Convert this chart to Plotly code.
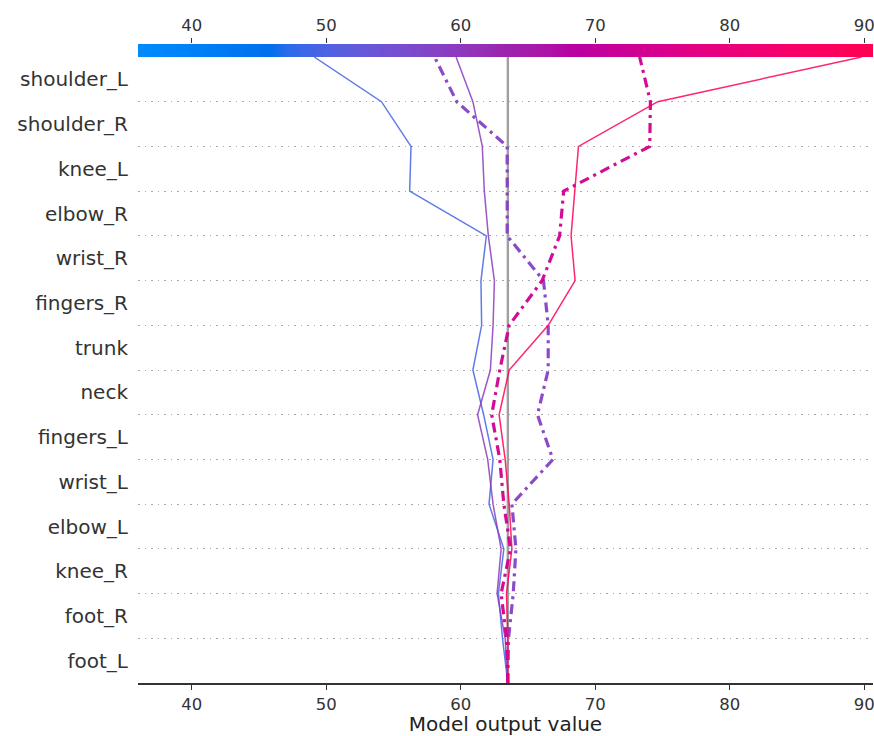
import numpy as np
import plotly.graph_objects as go

# ---------------- data ----------------
# features listed bottom -> top (y label order of the decision plot)
features = ["foot_L", "foot_R", "knee_R", "elbow_L", "wrist_L", "fingers_L", "neck",
            "trunk", "fingers_R", "wrist_R", "elbow_R", "knee_L", "shoulder_R", "shoulder_L"]

base_value = 63.5
x_range = [36.0, 90.65]
x_ticks = [40, 50, 60, 70, 80, 90]

# cumulative model output at each level (0 = base, bottom ... 14 = final output, top)
obs_blue = [63.5, 63.1, 62.8, 63.2, 62.1, 62.4, 61.7, 60.9, 61.55, 61.5, 61.9, 56.2, 56.3, 54.1, 49.1]
obs_purple = [63.5, 63.3, 62.7, 63.0, 62.4, 62.0, 61.25, 62.2, 62.4, 62.5, 62.05, 61.75, 61.6, 60.9, 59.65]
obs_purple_hl = [63.5, 63.55, 63.9, 64.1, 63.8, 66.85, 65.7, 66.5, 66.5, 66.15, 63.45, 63.45, 63.45, 59.7, 58.05]
obs_magenta_hl = [63.5, 63.4, 63.0, 63.7, 63.2, 62.9, 62.3, 62.9, 63.6, 66.05, 67.35, 67.65, 74.05, 74.1, 73.3]
obs_red = [63.5, 63.5, 63.4, 63.8, 63.6, 63.3, 62.85, 63.6, 66.5, 68.5, 68.2, 68.5, 68.75, 74.65, 89.8]

series = [
    ("obs 1", obs_blue, False),
    ("obs 2", obs_purple, False),
    ("obs 3", obs_purple_hl, True),
    ("obs 4", obs_magenta_hl, True),
    ("obs 5", obs_red, False),
]

# ---------------- shap red_blue colormap (LCH interpolation) ----------------
def lch2rgb(L, C, h):
    a = C * np.cos(h)
    b = C * np.sin(h)
    fy = (L + 16) / 116
    fx = fy + a / 500
    fz = fy - b / 200

    def finv(t):
        return t ** 3 if t > 6 / 29 else 3 * (6 / 29) ** 2 * (t - 4 / 29)

    X = 0.95047 * finv(fx)
    Y = 1.0 * finv(fy)
    Z = 1.08883 * finv(fz)
    r = 3.2406 * X - 1.5372 * Y - 0.4986 * Z
    g = -0.9689 * X + 1.8758 * Y + 0.0415 * Z
    bb = 0.0557 * X - 0.2040 * Y + 1.0570 * Z
    out = []
    for c in (r, g, bb):
        c = 1.055 * c ** (1 / 2.4) - 0.055 if c > 0.0031308 else 12.92 * c
        out.append(min(max(c, 0.0), 1.0))
    return out

blue_lch = [54.0, 70.0, 4.6588]
l_mid = 40.0
red_lch = [54.0, 90.0, 0.35470565 + 2 * np.pi]
nsteps = 100
l_vals = list(np.linspace(blue_lch[0], l_mid, nsteps // 2)) + list(np.linspace(l_mid, red_lch[0], nsteps // 2))
c_vals = np.linspace(blue_lch[1], red_lch[1], nsteps)
h_vals = np.linspace(blue_lch[2], red_lch[2], nsteps)
cmap_rgb = [lch2rgb(l, c, h) for l, c, h in zip(l_vals, c_vals, h_vals)]
cmap_pos = np.linspace(0, 1, nsteps)
colorscale = [[float(p), "rgb(%d,%d,%d)" % tuple(int(round(v * 255)) for v in rgb)]
              for p, rgb in zip(cmap_pos, cmap_rgb)]


def color_at(value):
    t = (value - x_range[0]) / (x_range[1] - x_range[0])
    t = min(max(t, 0), 1)
    rgb = [np.interp(t, cmap_pos, [c[i] for c in cmap_rgb]) for i in range(3)]
    return "rgb(%d,%d,%d)" % tuple(int(round(v * 255)) for v in rgb)


# ---------------- figure ----------------
fig = go.Figure()
levels = list(range(len(features) + 1))

for name, vals, highlight in series:
    fig.add_trace(go.Scatter(
        x=vals, y=levels, mode="lines", name=name,
        line=dict(color=color_at(vals[-1]), width=3.2 if highlight else 1.5,
                  dash="10px,5px,3px,5px" if highlight else "solid"),
        opacity=0.95 if highlight else 0.85,
        xaxis="x", yaxis="y", showlegend=False, hoverinfo="skip",
    ))

# colour bar drawn as a heatmap on a thin top axis
cb_x = np.linspace(x_range[0], x_range[1], 400)
fig.add_trace(go.Heatmap(
    x=cb_x, y=[0.5], z=[cb_x], colorscale=colorscale,
    zmin=x_range[0], zmax=x_range[1], showscale=False,
    xaxis="x2", yaxis="y2", hoverinfo="skip",
))

fig.add_shape(type="line", x0=base_value, x1=base_value, y0=0, y1=len(features),
              xref="x", yref="y", line=dict(color="#a0a0a0", width=2.4), layer="below")

cb_frac = 13 / 639
font_family = "DejaVu Sans"
fig.update_layout(
    width=874, height=736,
    margin=dict(l=138, r=1, t=44, b=53, autoexpand=False),
    paper_bgcolor="white", plot_bgcolor="white",
    font=dict(family=font_family, color="#333333"),
    xaxis=dict(
        domain=[0, 1], anchor="y", range=x_range, automargin=False,
        tickvals=x_ticks, ticks="outside", ticklen=5, tickcolor="#333333", tickwidth=1,
        tickfont=dict(size=16.5, color="#333333"), ticklabeloverflow="allow",
        showline=True, linecolor="#333333", linewidth=1.5,
        showgrid=False, zeroline=False,
        title=dict(text="Model output value", font=dict(size=20, color="#222222"), standoff=6),
    ),
    yaxis=dict(
        domain=[0, 1 - cb_frac], anchor="x", range=[0, len(features)], automargin=False,
        tickvals=[i + 0.5 for i in range(len(features))], ticktext=features,
        tickfont=dict(size=20, color="#333333"), ticks="", ticklabelstandoff=9,
        showgrid=False, zeroline=False, showline=False,
        minor=dict(tickvals=list(range(1, len(features))), showgrid=True,
                   gridcolor="#a8a8a8", griddash="1.5px,5px", gridwidth=1.2, ticks=""),
    ),
    xaxis2=dict(
        domain=[0, 1], anchor="y2", matches="x", range=x_range, side="top", automargin=False,
        tickvals=x_ticks, ticks="outside", ticklen=5, tickcolor="#333333",
        tickfont=dict(size=16.5, color="#333333"), ticklabeloverflow="allow",
        showline=False, showgrid=False, zeroline=False,
    ),
    yaxis2=dict(domain=[1 - cb_frac, 1], anchor="x2", range=[0, 1], visible=False),
)

fig.write_html("out.html")
